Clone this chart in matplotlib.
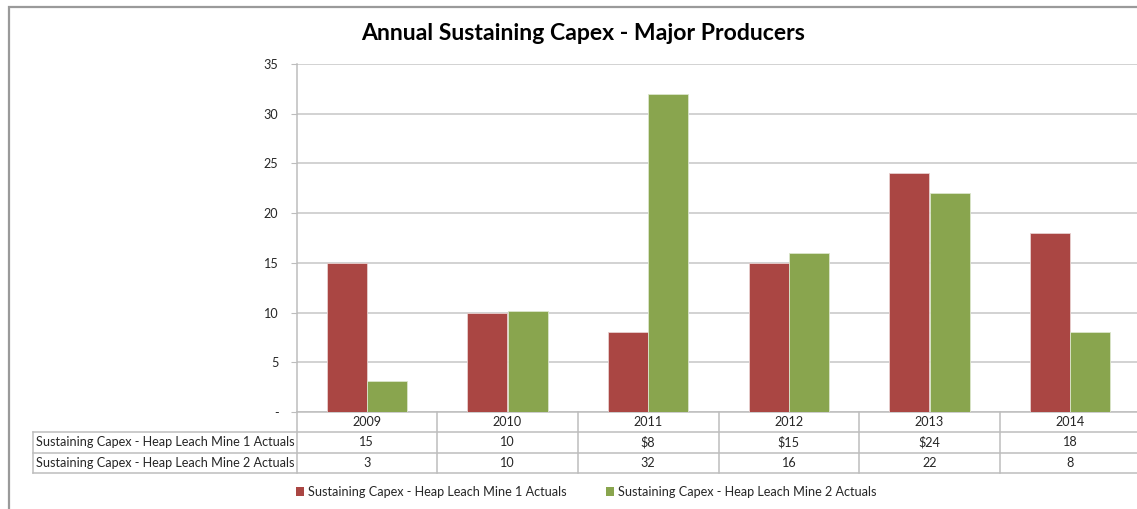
import matplotlib
matplotlib.use("Agg")
import matplotlib.pyplot as plt
from matplotlib.patches import Rectangle, Patch
from matplotlib.transforms import blended_transform_factory
import numpy as np

plt.rcParams['font.family'] = ['Lato', 'DejaVu Sans']

years = ["2009", "2010", "2011", "2012", "2013", "2014"]
mine1 = [15, 10, 8, 15, 24, 18]
mine2 = [3.1, 10.2, 32, 16, 22, 8]
mine1_labels = ["15", "10", "$8", "$15", "$24", "18"]
mine2_labels = ["3", "10", "32", "16", "22", "8"]
series_names = ["Sustaining Capex - Heap Leach Mine 1 Actuals",
                "Sustaining Capex - Heap Leach Mine 2 Actuals"]
yticks = [0, 5, 10, 15, 20, 25, 30, 35]
ytick_labels = ["-", "5", "10", "15", "20", "25", "30", "35"]
title = "Annual Sustaining Capex - Major Producers"

RED = "#AA4643"
GREEN = "#89A54E"
GRID = "#C6C6C6"
LINE = "#BDBDBD"
TXT = "#262626"
FS = 9.1

W, H = 1137, 509
fig = plt.figure(figsize=(W / 100, H / 100), dpi=100)

# outer border
fig.patches.append(Rectangle((9 / W, -0.1), 1.2, (H - 7) / H + 0.1, transform=fig.transFigure,
                             fill=False, edgecolor="#9A9A9A", linewidth=1.6))

left_px, right_px, top_px, bot_px = 296.5, 1140.5, 64, 412
ax = fig.add_axes([left_px / W, (H - bot_px) / H, (right_px - left_px) / W, (bot_px - top_px) / H])

x = np.arange(len(years))
bw = 0.285
ax.bar(x - bw / 2, mine1, bw, color=RED, edgecolor="#E8D0CF", linewidth=0.6, zorder=3)
ax.bar(x + bw / 2, mine2, bw, color=GREEN, edgecolor="#DCE6CC", linewidth=0.6, zorder=3)

ax.set_xlim(-0.5, len(years) - 0.5)
ax.set_ylim(0, 35)
ax.set_yticks(yticks)
ax.set_yticklabels(ytick_labels, fontsize=FS, color=TXT)
ax.set_xticks([])
ax.yaxis.grid(True, color=GRID, linewidth=1.1, zorder=0)
ax.set_axisbelow(True)
ax.tick_params(axis='y', length=4, color=LINE, pad=9)
for s in ["top", "right"]:
    ax.spines[s].set_visible(False)
ax.spines["left"].set_color(LINE)
ax.spines["bottom"].set_color(LINE)
ax.spines["left"].set_linewidth(1.1)
ax.spines["bottom"].set_linewidth(1.1)

fig.text(583 / W, (H - 33) / H, title, ha="center", va="center", fontsize=16.6,
         fontweight="bold", color="black")

# table
axh = bot_px - top_px
def ay(py):
    return (bot_px - py) / axh
def axx(px):
    return (px - left_px) / (right_px - left_px)

bt = blended_transform_factory(ax.transData, ax.transAxes)
row_lines = [432, 453, 473]
for py in row_lines:
    ax.plot([axx(33), 1.0], [ay(py), ay(py)], transform=ax.transAxes, color=LINE,
            linewidth=1.1, clip_on=False)
# vertical divider lines
for b in np.arange(len(years) + 1) - 0.5:
    ax.plot([b, b], [0, ay(473)], transform=bt, color=LINE, linewidth=1.1, clip_on=False)
ax.plot([axx(33), axx(33)], [ay(432), ay(473)], transform=ax.transAxes, color=LINE,
        linewidth=1.1, clip_on=False)

row_centers = [422, 442.5, 463]
for i, yr in enumerate(years):
    ax.text(x[i], ay(row_centers[0]), yr, transform=bt, ha="center", va="center",
            fontsize=FS, color=TXT, clip_on=False)
    ax.text(x[i], ay(row_centers[1]), mine1_labels[i], transform=bt, ha="center", va="center",
            fontsize=FS, color=TXT, clip_on=False)
    ax.text(x[i], ay(row_centers[2]), mine2_labels[i], transform=bt, ha="center", va="center",
            fontsize=FS, color=TXT, clip_on=False)
for name, py in zip(series_names, row_centers[1:]):
    ax.text(axx(36), ay(py), name, transform=ax.transAxes, ha="left", va="center",
            fontsize=FS, color=TXT, clip_on=False)

handles = [Patch(facecolor=RED, edgecolor="none"), Patch(facecolor=GREEN, edgecolor="none")]
fig.legend(handles, series_names, loc="center", bbox_to_anchor=(586 / W, (H - 492) / H),
           ncol=2, frameon=False, fontsize=FS, handlelength=0.65, handleheight=0.65,
           handletextpad=0.3, columnspacing=3.1, labelcolor=TXT)

fig.savefig("out.png", dpi=100)
